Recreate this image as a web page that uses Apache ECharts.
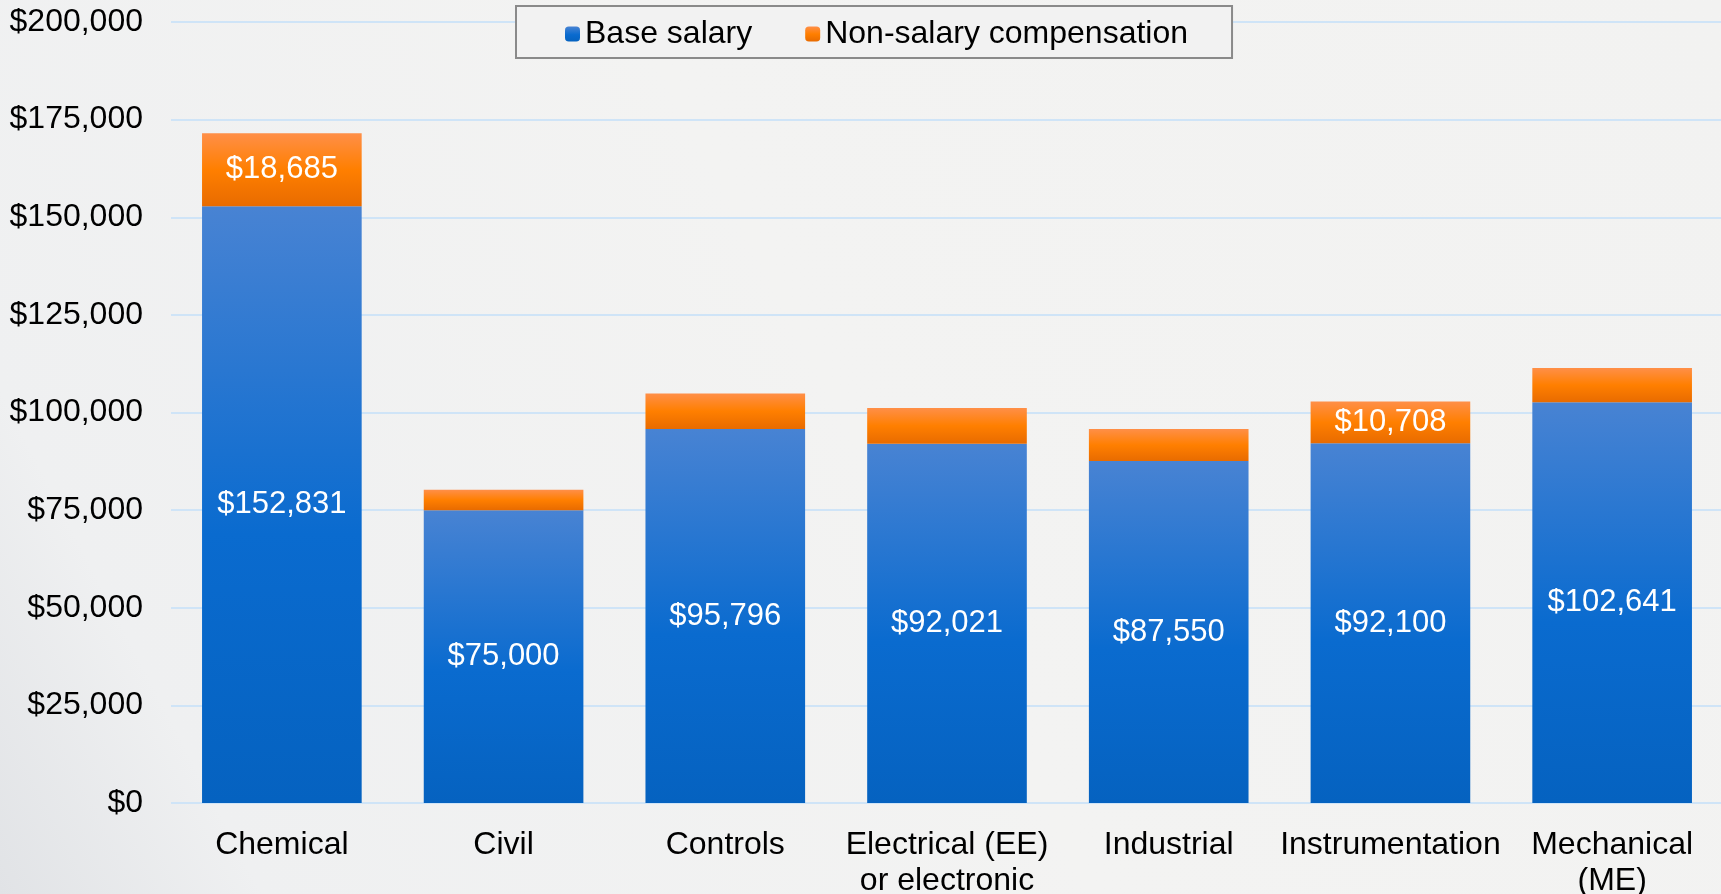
<!DOCTYPE html>
<html>
<head>
<meta charset="utf-8">
<title>Salary by discipline</title>
<script src="https://cdn.jsdelivr.net/npm/echarts@6/dist/echarts.min.js"></script>
<style>
  html, body { margin: 0; padding: 0; }
  #chart { width: 1721px; height: 894px; }
</style>
</head>
<body>
<div id="chart"></div>
<script>
// data
const categories = ['Chemical', 'Civil', 'Controls', 'Electrical (EE)\nor electronic', 'Industrial', 'Instrumentation', 'Mechanical\n(ME)'];
const baseSalary = [152831, 75000, 95796, 92021, 87550, 92100, 102641];
// only two of these are printed on the chart, the rest are estimated from bar heights
const nonSalary = [18685, 5200, 9100, 9150, 8250, 10708, 8750];
const seriesNames = ['Base salary', 'Non-salary compensation'];
const yMax = 200000;
const yStep = 25000;

const FONT = "'Liberation Sans', Arial, sans-serif";

const money = v => '$' + String(Math.round(v)).replace(/\B(?=(\d{3})+(?!\d))/g, ',');

const blueFill = new echarts.graphic.LinearGradient(0, 0, 0, 1, [
  { offset: 0, color: '#4883d3' },
  { offset: 0.55, color: '#0a6bcf' },
  { offset: 1, color: '#0562c0' }
]);
const orangeFill = new echarts.graphic.LinearGradient(0, 0, 0, 1, [
  { offset: 0, color: '#ff8f48' },
  { offset: 0.5, color: '#ff7f00' },
  { offset: 1, color: '#e86b00' }
]);

const chart = echarts.init(document.getElementById('chart'));

const option = {
  animation: false,
  backgroundColor: new echarts.graphic.LinearGradient(0, 1, 1, 0, [
    { offset: 0, color: '#e1e3e6' },
    { offset: 0.12, color: '#eff0f1' },
    { offset: 0.5, color: '#f3f3f2' },
    { offset: 1, color: '#f2f2f1' }
  ]),
  textStyle: { fontFamily: FONT },
  legend: {
    data: seriesNames,
    left: 516,
    top: 6,
    padding: [12, 44, 8, 49],
    itemWidth: 15,
    itemHeight: 15,
    itemGap: 53,
    backgroundColor: '#f2f2f2',
    borderColor: '#8a8a8a',
    borderWidth: 2,
    textStyle: { fontSize: 32, color: '#000', fontFamily: FONT, lineHeight: 32 }
  },
  grid: {
    left: 171,
    top: 22,
    width: 1552,
    height: 781,
    outerBoundsMode: 'none'
  },
  xAxis: {
    type: 'category',
    data: categories,
    axisLine: { show: false },
    axisTick: { show: false },
    axisLabel: {
      interval: 0,
      margin: 24,
      color: '#000',
      fontSize: 32,
      lineHeight: 36,
      fontFamily: FONT
    }
  },
  yAxis: {
    type: 'value',
    min: 0,
    max: yMax,
    interval: yStep,
    axisLine: { show: false },
    axisTick: { show: false },
    splitLine: { lineStyle: { color: '#cfe4f7', width: 2 } },
    axisLabel: {
      margin: 28,
      color: '#000',
      fontSize: 32,
      fontFamily: FONT,
      formatter: money
    }
  },
  series: [
    {
      name: seriesNames[0],
      type: 'bar',
      stack: 'pay',
      barCategoryGap: '28%',
      data: baseSalary,
      itemStyle: { color: blueFill },
      label: {
        show: true,
        position: 'inside',
        color: '#fff',
        fontSize: 31,
        fontFamily: FONT,
        formatter: p => money(p.value)
      }
    },
    {
      name: seriesNames[1],
      type: 'bar',
      stack: 'pay',
      barCategoryGap: '28%',
      data: nonSalary,
      itemStyle: { color: orangeFill },
      label: {
        show: true,
        position: 'inside',
        color: '#fff',
        fontSize: 31,
        fontFamily: FONT,
        // small segments carry no label in the original
        formatter: p => (p.value >= 10000 ? money(p.value) : '')
      }
    }
  ]
};

chart.setOption(option);
</script>
</body>
</html>
